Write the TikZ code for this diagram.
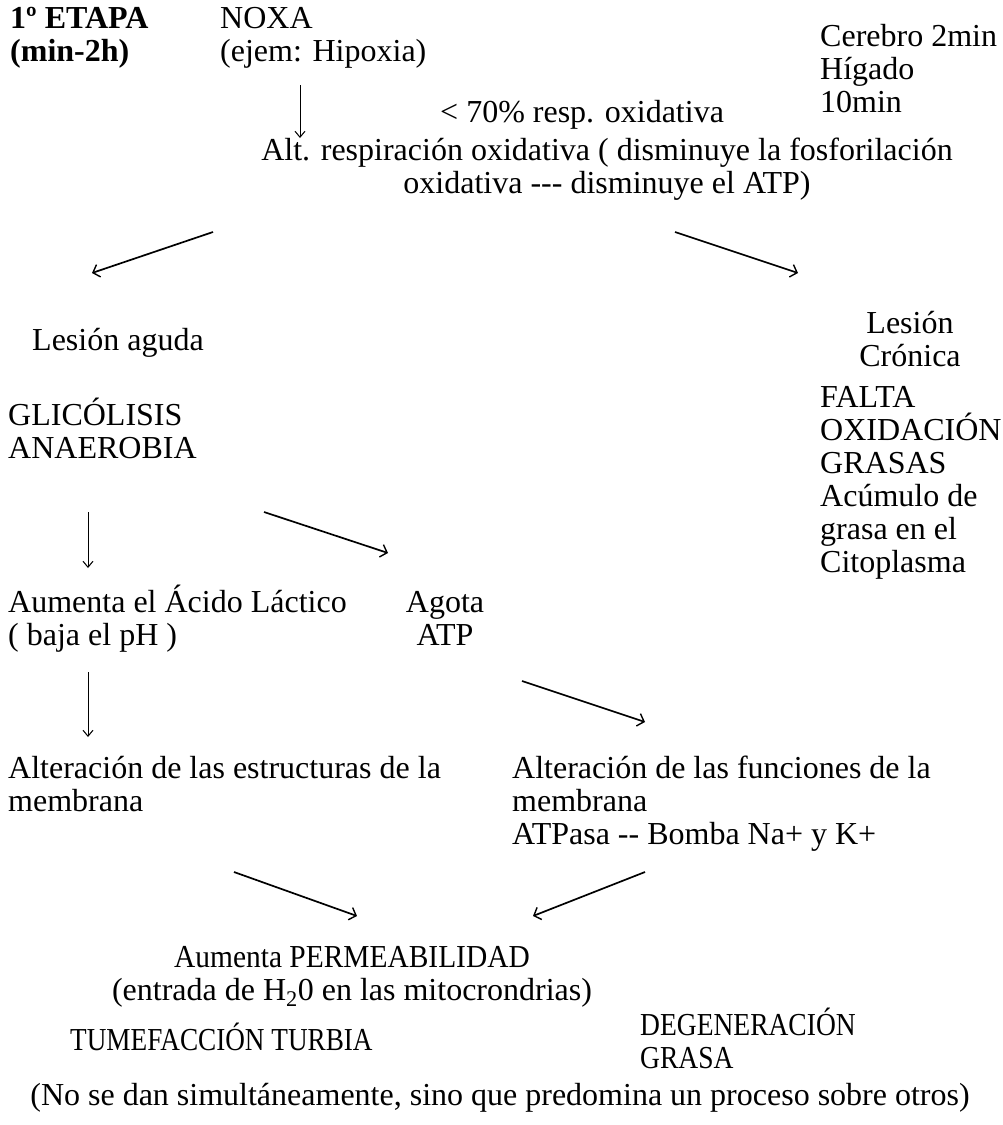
\documentclass[tikz,border=0pt]{standalone}
\usepackage{fontspec}
\usepackage{graphicx}
\setmainfont{Liberation Serif}
\usetikzlibrary{arrows.meta}
\begin{document}
\begin{tikzpicture}[x=1pt,y=-1pt,
  txt/.style={inner sep=0pt,font=\fontsize{32}{33}\selectfont},
  lft/.style={txt,anchor=base west,align=left},
  ctr/.style={txt,anchor=base,align=center},
  thickarrow/.style={line width=1.7pt,-{Straight Barb[length=6pt,width=13pt,line width=1.4pt]}},
  thinarrow/.style={line width=0.9pt,-{Straight Barb[length=6pt,width=10pt,line width=1pt]}}]
\useasboundingbox (0,0) rectangle (1002,1125);
\node[lft,font=\fontsize{32}{33}\selectfont\bfseries] (etapa) at (10,61) {1º ETAPA\\(min-2h)};
\node[lft] (noxa) at (220,61) {NOXA\\(ejem: Hipoxia)};
\node[lft] (pct) at (440,122) {< 70\% resp. oxidativa};
\node[lft] (cerebro) at (820,112) {Cerebro 2min\\Hígado\\10min};
\node[ctr] (alt) at (607,193) {Alt. respiración oxidativa ( disminuye la fosforilación\\oxidativa {-}{-}{-} disminuye el ATP)};
\coordinate (a1s) at (300,85); \coordinate (a1e) at (300,138);
\draw[thinarrow] (a1s) -- (a1e);
\coordinate (a2s) at (213,232); \coordinate (a2e) at (92,273);
\draw[thickarrow] (a2s) -- (a2e);
\coordinate (a3s) at (675,232); \coordinate (a3e) at (798,273);
\draw[thickarrow] (a3s) -- (a3e);
\node[lft] (aguda) at (32,350) {Lesión aguda};
\node[ctr] (lesion) at (910,366) {Lesión\\Crónica};
\node[lft] (falta) at (820,572) {FALTA\\OXIDACIÓN\\GRASAS\\Acúmulo de\\grasa en el\\Citoplasma};
\node[lft] (glico) at (8,458) {GLICÓLISIS\\ANAEROBIA};
\coordinate (a4s) at (88,512); \coordinate (a4e) at (88,568);
\draw[thinarrow] (a4s) -- (a4e);
\coordinate (a5s) at (264,512); \coordinate (a5e) at (388,553);
\draw[thickarrow] (a5s) -- (a5e);
\node[lft] (lactico) at (8,645) {Aumenta el Ácido Láctico\\( baja el pH )};
\node[ctr] (agota) at (445,645) {Agota\\ATP};
\coordinate (a6s) at (88,672); \coordinate (a6e) at (88,737);
\draw[thinarrow] (a6s) -- (a6e);
\coordinate (a7s) at (522,681); \coordinate (a7e) at (645,722);
\draw[thickarrow] (a7s) -- (a7e);
\node[lft] (estruct) at (8,811) {Alteración de las estructuras de la\\membrana};
\node[lft] (func) at (512,844) {Alteración de las funciones de la\\membrana\\ATPasa {-}{-} Bomba Na+ y K+};
\coordinate (a8s) at (234,872); \coordinate (a8e) at (357,916);
\draw[thickarrow] (a8s) -- (a8e);
\coordinate (a9s) at (645,872); \coordinate (a9e) at (533,916);
\draw[thickarrow] (a9s) -- (a9e);
\node[ctr] (perm) at (352,1000) {\scalebox{0.92}[1]{Aumenta PERMEABILIDAD}\\(entrada de H\textsubscript{2}0 en las mitocrondrias)};
\node[lft] (tume) at (70,1050) {\scalebox{0.85}[1]{TUMEFACCIÓN TURBIA}};
\node[lft] (degen) at (640,1068) {\scalebox{0.86}[1]{DEGENERACIÓN}\\\scalebox{0.86}[1]{GRASA}};
\node[ctr] (nose) at (500,1105) {(No se dan simultáneamente, sino que predomina un proceso sobre otros)};
\end{tikzpicture}
\end{document}
